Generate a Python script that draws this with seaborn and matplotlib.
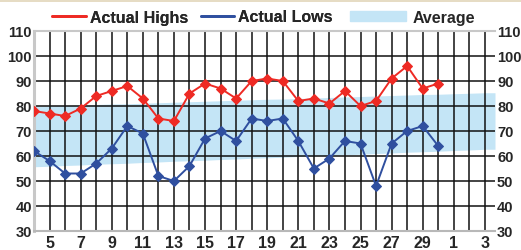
import numpy as np
import pandas as pd
import matplotlib.pyplot as plt
import seaborn as sns
from matplotlib.lines import Line2D
from matplotlib.patches import Patch, Rectangle
from matplotlib.font_manager import FontProperties

# day labels along the x axis (end of one month into the next)
days = [4, 5, 6, 7, 8, 9, 10, 11, 12, 13, 14, 15, 16, 17, 18, 19, 20,
        21, 22, 23, 24, 25, 26, 27, 28, 29, 30, 1, 2, 3]

highs = [78, 77, 76, 79, 84, 86, 88, 83, 75, 74, 85, 89, 87, 83, 90, 91, 90,
         82, 83, 81, 86, 80, 82, 91, 96, 87, 89]
lows = [62, 58, 53, 53, 57, 63, 72, 69, 52, 50, 56, 67, 70, 66, 75, 74, 75,
        66, 55, 59, 66, 65, 48, 65, 70, 72, 64]

# normal range band
avg_high = [79.8, 80.0, 80.2, 80.4, 80.6, 80.8, 80.9, 81.1, 81.3, 81.5, 81.7,
            81.9, 82.1, 82.3, 82.5, 82.7, 82.8, 83.0, 83.2, 83.4, 83.6, 83.8,
            84.0, 84.2, 84.4, 84.6, 84.7, 84.9, 85.1, 85.3]
avg_low = [55.7, 55.9, 56.2, 56.4, 56.7, 56.9, 57.1, 57.4, 57.6, 57.9, 58.1,
           58.3, 58.6, 58.8, 59.1, 59.3, 59.5, 59.8, 60.0, 60.3, 60.5, 60.7,
           61.0, 61.2, 61.5, 61.7, 61.9, 62.2, 62.4, 62.7]

y_ticks = [30, 40, 50, 60, 70, 80, 90, 100, 110]

sns.set_style("white")
plt.rcParams['font.family'] = ['Liberation Sans', 'DejaVu Sans']

red = "#ee2a24"
blue = "#2f4f9f"
band = "#c4e5f6"

pos = np.arange(len(days))
df = pd.DataFrame({'pos': pos[:len(highs)], 'high': highs, 'low': lows})

fig = plt.figure(figsize=(5.21, 2.51), dpi=100)
ax = fig.add_axes([34 / 521, 19 / 251, 461 / 521, 200 / 251])
xmax = len(days) - 1 + 0.65

# band reaches the right edge of the plot
bx = list(pos) + [xmax]
ax.fill_between(bx, avg_low + [avg_low[-1]], avg_high + [avg_high[-1]],
                color=band, lw=0, zorder=0.3)

sns.lineplot(data=df, x='pos', y='high', color=red, marker='D', markersize=5,
             markeredgecolor=red, lw=1.4, ax=ax, zorder=3)
sns.lineplot(data=df, x='pos', y='low', color=blue, marker='D', markersize=5,
             markeredgecolor=blue, lw=1.4, ax=ax, zorder=3)

ax.set_xlim(0, xmax)
ax.set_ylim(30, 110)
ax.set_xticks(pos)
ax.set_xticklabels([str(d) if i % 2 == 1 else '' for i, d in enumerate(days)])
ax.set_yticks(y_ticks)
ax.set_yticklabels([str(v) for v in y_ticks])
ax.set_xlabel('')
ax.set_ylabel('')
ax.set_axisbelow(True)
ax.grid(True, color='#111111', lw=1.1)
ax.tick_params(axis='x', length=0, labelsize=11.5, pad=3)
ax.tick_params(axis='y', length=0, labelsize=10.5, pad=1.5, labelright=True)
for lab in ax.get_xticklabels() + ax.get_yticklabels():
    lab.set_fontweight('bold')
for t in ax.yaxis.get_major_ticks():
    t.label2.set_fontweight('bold')

ax.spines['right'].set_visible(False)
ax.spines['left'].set_color('#c8c8c8')
ax.spines['left'].set_linewidth(2.2)
ax.spines['bottom'].set_color('#b8b8b8')
ax.spines['bottom'].set_linewidth(1.5)
ax.spines['top'].set_color('#c8c8c8')
ax.spines['top'].set_linewidth(1.5)

leg_font = FontProperties(family='Liberation Sans', weight='bold', size=11.5)
h1 = [Line2D([], [], color=red, lw=2), Line2D([], [], color=blue, lw=2)]
leg1 = fig.legend(h1, ['Actual Highs', 'Actual Lows'], loc='center left',
                  bbox_to_anchor=(52 / 521, 1 - 18 / 251), ncol=2, frameon=False,
                  prop=leg_font, handlelength=2.1, handletextpad=0.25,
                  columnspacing=0.8, borderpad=0, borderaxespad=0)
fig.legend([Patch(color=band)], ['Average'], loc='center left',
           bbox_to_anchor=(350 / 521, 1 - 18 / 251), frameon=False,
           prop=leg_font, handlelength=3.5, handleheight=0.55,
           handletextpad=0.45, borderpad=0, borderaxespad=0)
fig.add_artist(leg1)

# thin tan strip at the top of the image
fig.patches.append(Rectangle((0, 1 - 3 / 251), 1, 3 / 251, transform=fig.transFigure,
                             color='#e6dcc4', lw=0))

fig.savefig('out.png', dpi=100)
